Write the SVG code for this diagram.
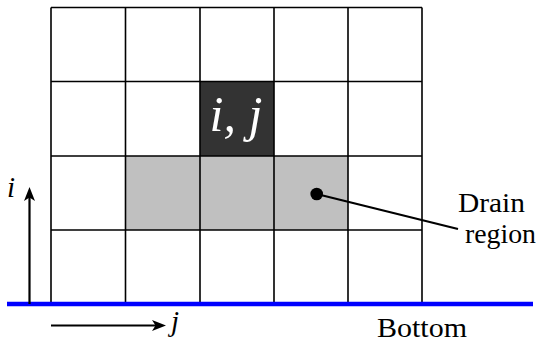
<svg xmlns="http://www.w3.org/2000/svg" width="537" height="347" viewBox="0 0 537 347">
<style>
.grid{stroke:#000;stroke-width:1.6;fill:none}
.arr{stroke:#000;stroke-width:2.2;fill:none}
.head{fill:#000;stroke:none}
</style>
<rect width="537" height="347" fill="#fff"/>
<g id="cells">
<rect x="125.5" y="156" width="222.5" height="74" fill="#c0c0c0"/>
<rect x="200" y="81.5" width="74" height="74.5" fill="#333333"/>
</g>
<g id="grid" class="grid">
<path d="M51,7.5 H422 M51,81.5 H422 M51,156 H422 M51,230 H422"/>
<path d="M51,7.5 V304 M125.5,7.5 V304 M200,7.5 V304 M274,7.5 V304 M348,7.5 V304 M422,7.5 V304"/>
</g>
<g id="bottom-line">
<line x1="7" y1="304" x2="533" y2="304" stroke="#0000ff" stroke-width="4.3"/>
</g>
<g id="node-ij">
<text x="236" y="131" font-family="Liberation Serif, DejaVu Serif, serif" font-style="italic" font-size="50" text-anchor="middle" fill="#fff">i, j</text>
</g>
<g id="connectors">
<line class="arr" x1="29.5" y1="304" x2="29.5" y2="196"/>
<path class="head" d="M29.5,187 L35,201 L29.5,197.5 L24,201 Z"/>
<line class="arr" x1="51" y1="325.5" x2="158" y2="325.5"/>
<path class="head" d="M166,325.5 L152,331 L155.5,325.5 L152,320 Z"/>
<line x1="316.7" y1="194" x2="458" y2="229" stroke="#000" stroke-width="2.2"/>
<circle cx="316.7" cy="194" r="6.3" fill="#000"/>
</g>
<g id="labels" font-family="Liberation Serif, DejaVu Serif, serif" fill="#000">
<text x="7" y="197" font-size="29" font-style="italic">i</text>
<text x="171" y="331" font-size="29" font-style="italic">j</text>
<text x="458" y="212" font-size="27" textLength="67" lengthAdjust="spacingAndGlyphs">Drain</text>
<text x="465" y="243" font-size="27" textLength="71" lengthAdjust="spacingAndGlyphs">region</text>
<text x="377" y="337" font-size="27" textLength="90" lengthAdjust="spacingAndGlyphs">Bottom</text>
</g>
</svg>
